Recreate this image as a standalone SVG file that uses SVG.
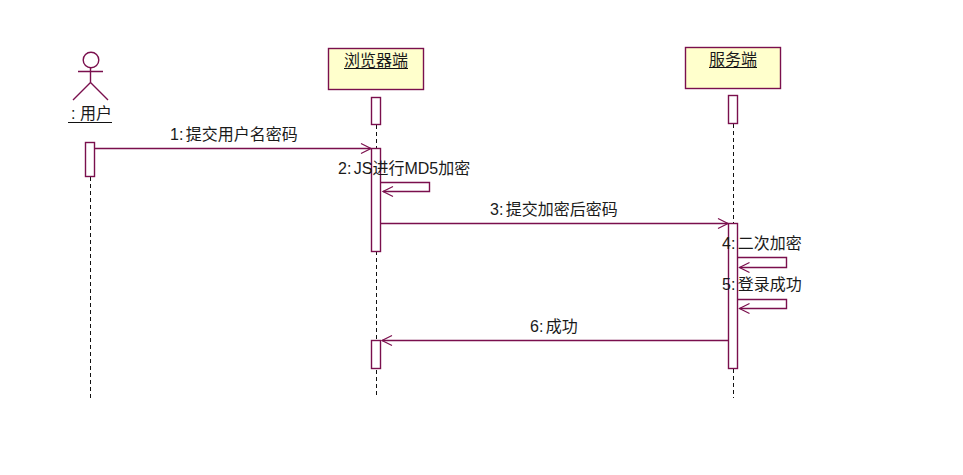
<svg xmlns="http://www.w3.org/2000/svg" width="963" height="475" viewBox="0 0 963 475">
<style>
text{font-family:"Liberation Sans","Noto Sans CJK SC",sans-serif;font-size:16px;fill:#1a1a1a}
.m{word-spacing:-2px}
.b{fill:#ffffcc;stroke:#7a0f4d;stroke-width:1.4}
.a{fill:#fff;stroke:#7a0f4d;stroke-width:1.4}
.l{fill:none;stroke:#7a0f4d;stroke-width:1.4}
.d{fill:none;stroke:#111;stroke-width:1;stroke-dasharray:4 3}
.u{stroke:#111;stroke-width:1}
</style>
<defs>
<marker id="o" markerUnits="userSpaceOnUse" markerWidth="14" markerHeight="14" refX="11" refY="7" orient="auto"><path d="M1 2L11 7L1 12" fill="none" stroke="#7a0f4d" stroke-width="1.2"/></marker>
</defs>
<rect width="963" height="475" fill="#fff"/>
<g id="lifelines">
<path class="d" d="M90.5 177V398"/>
<path class="d" d="M376.5 125V398"/>
<path class="d" d="M733.5 124V398"/>
</g>
<g id="actor-user">
<circle class="l" cx="91" cy="60" r="7.8"/>
<path class="l" d="M78 71.5H103M90.5 68V82.5M90.5 82.5L73 100M90.5 82.5L108 100"/>
<text x="71" y="119">: 用户</text>
<path class="u" d="M68 122.5H112"/>
<rect class="a" x="85.5" y="142.5" width="9" height="34"/>
</g>
<g id="node-browser">
<rect class="b" x="328.5" y="48.5" width="95" height="41"/>
<text x="344" y="66">浏览器端</text>
<path class="u" d="M344 68.5H408"/>
<rect class="a" x="371.5" y="97.5" width="9" height="27"/>
<rect class="a" x="371.5" y="148.5" width="9" height="103"/>
<rect class="a" x="371.5" y="340.5" width="9" height="28"/>
</g>
<g id="node-server">
<rect class="b" x="685.5" y="47.5" width="95" height="41"/>
<text x="709" y="65">服务端</text>
<path class="u" d="M709 67.5H757"/>
<rect class="a" x="728.5" y="95.5" width="9" height="28"/>
<rect class="a" x="728.5" y="223.5" width="9" height="145"/>
</g>
<g id="connectors">
<path class="l" marker-end="url(#o)" d="M94.5 148.5H371"/>
<path class="l" marker-end="url(#o)" d="M380.5 182.5H429.5V191.5H383"/>
<path class="l" marker-end="url(#o)" d="M380.5 223.5H728"/>
<path class="l" marker-end="url(#o)" d="M737.5 257.5H786.5V267.5H739.5"/>
<path class="l" marker-end="url(#o)" d="M737.5 299.5H786.5V308.5H739.5"/>
<path class="l" marker-end="url(#o)" d="M728.5 340.5H382"/>
</g>
<g id="labels">
<text class="m" x="170" y="140">1: 提交用户名密码</text>
<text class="m" x="338" y="174">2: JS进行MD5加密</text>
<text class="m" x="490" y="215">3: 提交加密后密码</text>
<text class="m" x="722" y="249">4: 二次加密</text>
<text class="m" x="722" y="290">5: 登录成功</text>
<text class="m" x="530" y="332">6: 成功</text>
</g>
</svg>
